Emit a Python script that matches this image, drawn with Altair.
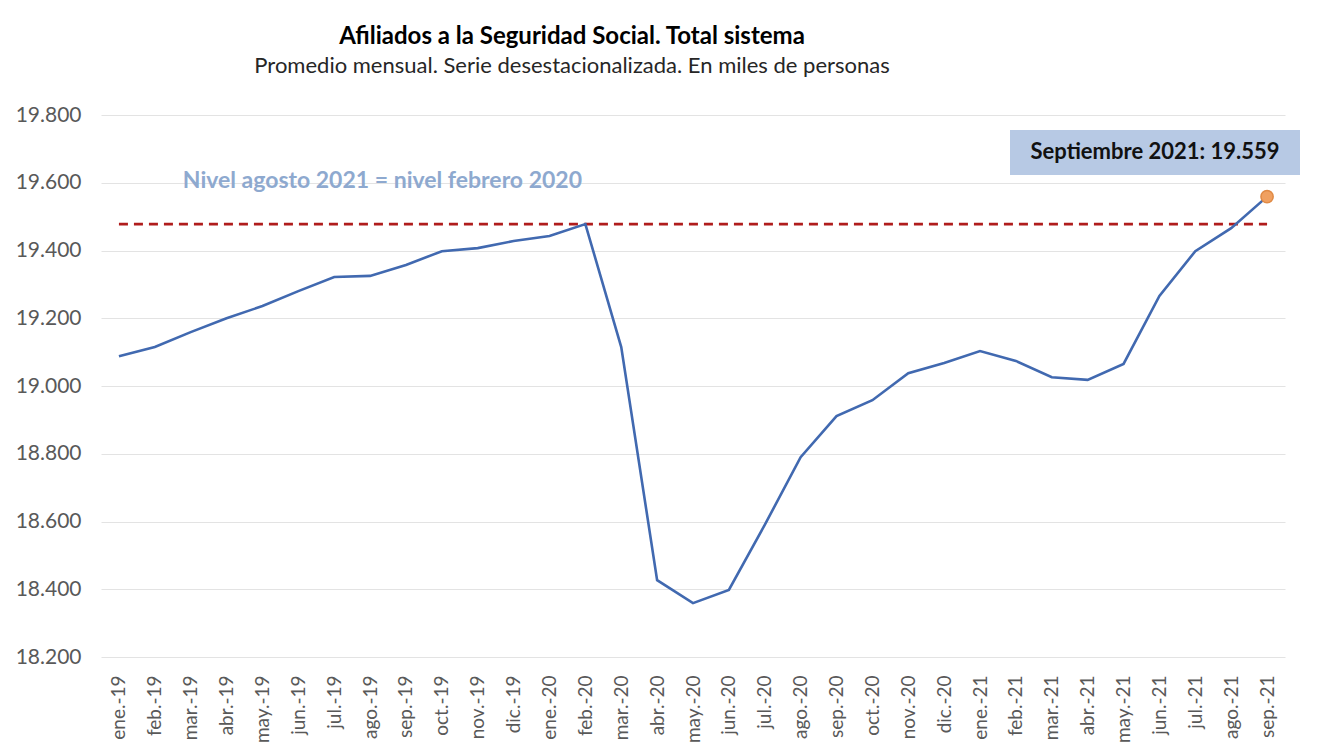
import altair as alt
import pandas as pd

meses = ["ene.-19", "feb.-19", "mar.-19", "abr.-19", "may.-19", "jun.-19", "jul.-19", "ago.-19",
         "sep.-19", "oct.-19", "nov.-19", "dic.-19", "ene.-20", "feb.-20", "mar.-20", "abr.-20",
         "may.-20", "jun.-20", "jul.-20", "ago.-20", "sep.-20", "oct.-20", "nov.-20", "dic.-20",
         "ene.-21", "feb.-21", "mar.-21", "abr.-21", "may.-21", "jun.-21", "jul.-21", "ago.-21",
         "sep.-21"]
afiliados = [19088, 19115, 19159, 19200, 19236, 19280, 19322, 19325,
             19357, 19398, 19407, 19428, 19443, 19478, 19115, 18427,
             18359, 18398, 18590, 18790, 18911, 18958, 19038, 19068,
             19103, 19074, 19026, 19018, 19065, 19266, 19398, 19466,
             19559]
nivel_feb20 = 19478
ultimo_valor = 19559
y_ticks = [18200, 18400, 18600, 18800, 19000, 19200, 19400, 19600, 19800]

FONT = "Lato"

df = pd.DataFrame({"mes": meses, "valor": afiliados})

x_scale = alt.Scale(type="point", padding=0.5, domain=meses)
xs = alt.X("mes:N", title=None, scale=x_scale,
           axis=alt.Axis(labelAngle=270, labelFontSize=19, labelColor="#595959", labelFont=FONT,
                         labelPadding=18, ticks=False, domain=False, grid=False, labelOverlap=False))
y_scale = alt.Scale(domain=[18200, 19800], nice=False, zero=False)
ys = alt.Y("valor:Q", title=None, scale=y_scale,
           axis=alt.Axis(values=y_ticks, labelFontSize=21, labelColor="#595959", labelFont=FONT,
                         labelPadding=20, ticks=False, domain=False, gridColor="#e3e3e3",
                         gridWidth=1.2,
                         labelExpr="replace(format(datum.value, ','), ',', '.')"))

x_plain = alt.X("mes:N", scale=x_scale)
y_plain = alt.Y("valor:Q", scale=y_scale)

linea = alt.Chart(df).mark_line(color="#4169b0", strokeWidth=2.6).encode(x=xs, y=ys)

ref_df = pd.DataFrame({"mes": [meses[0]], "mes_fin": [meses[-1]], "valor": [nivel_feb20]})
referencia = alt.Chart(ref_df).mark_rule(color="#b01c1c", strokeWidth=2.6, strokeDash=[9, 6]).encode(
    x=x_plain, x2="mes_fin:N", y=y_plain)

punto_df = pd.DataFrame({"mes": [meses[-1]], "valor": [ultimo_valor]})
punto = alt.Chart(punto_df).mark_point(filled=True, size=150, color="#f0a060", stroke="#e08a45",
                                       strokeWidth=1.5, opacity=1).encode(x=x_plain, y=y_plain)

nota_df = pd.DataFrame({"mes": ["feb.-19"], "valor": [19600],
                        "texto": ["Nivel agosto 2021 = nivel febrero 2020"]})
nota = alt.Chart(nota_df).mark_text(align="left", baseline="middle", dx=28, dy=-2, font=FONT,
                                    fontSize=23, fontWeight="bold", color="#8ea9cf").encode(
    x=x_plain, y=y_plain, text="texto:N")

caja_df = pd.DataFrame({"y0": [19756], "y1": [19623]})
caja = alt.Chart(caja_df).mark_rect(color="#b7c9e4").encode(
    x=alt.value(909), x2=alt.value(1199),
    y=alt.Y("y0:Q", scale=y_scale), y2="y1:Q")

etiqueta_df = pd.DataFrame({"mes": [meses[-1]], "valor": [19690],
                            "texto": ["Septiembre 2021: 19.559"]})
etiqueta = alt.Chart(etiqueta_df).mark_text(align="center", baseline="middle", dx=-112, font=FONT,
                                            fontSize=22, fontWeight="bold", color="#111111").encode(
    x=x_plain, y=y_plain, text="texto:N")

chart = alt.layer(caja, referencia, linea, punto, nota, etiqueta).properties(
    width=1184, height=542,
    autosize=alt.AutoSizeParams(type="none"),
    padding={"left": 93, "top": 107, "right": 29, "bottom": 85},
    title=alt.TitleParams(
        text="Afiliados a la Seguridad Social. Total sistema",
        subtitle="Promedio mensual. Serie desestacionalizada. En miles de personas",
        anchor="middle", dx=-121, offset=27, font=FONT, fontSize=24, fontWeight="bold",
        color="#000000", subtitleFont=FONT, subtitleFontSize=22, subtitleColor="#262626",
        subtitlePadding=7),
).configure_view(stroke=None)

chart.save("out.html", embed_options={"renderer": "svg", "actions": False})
